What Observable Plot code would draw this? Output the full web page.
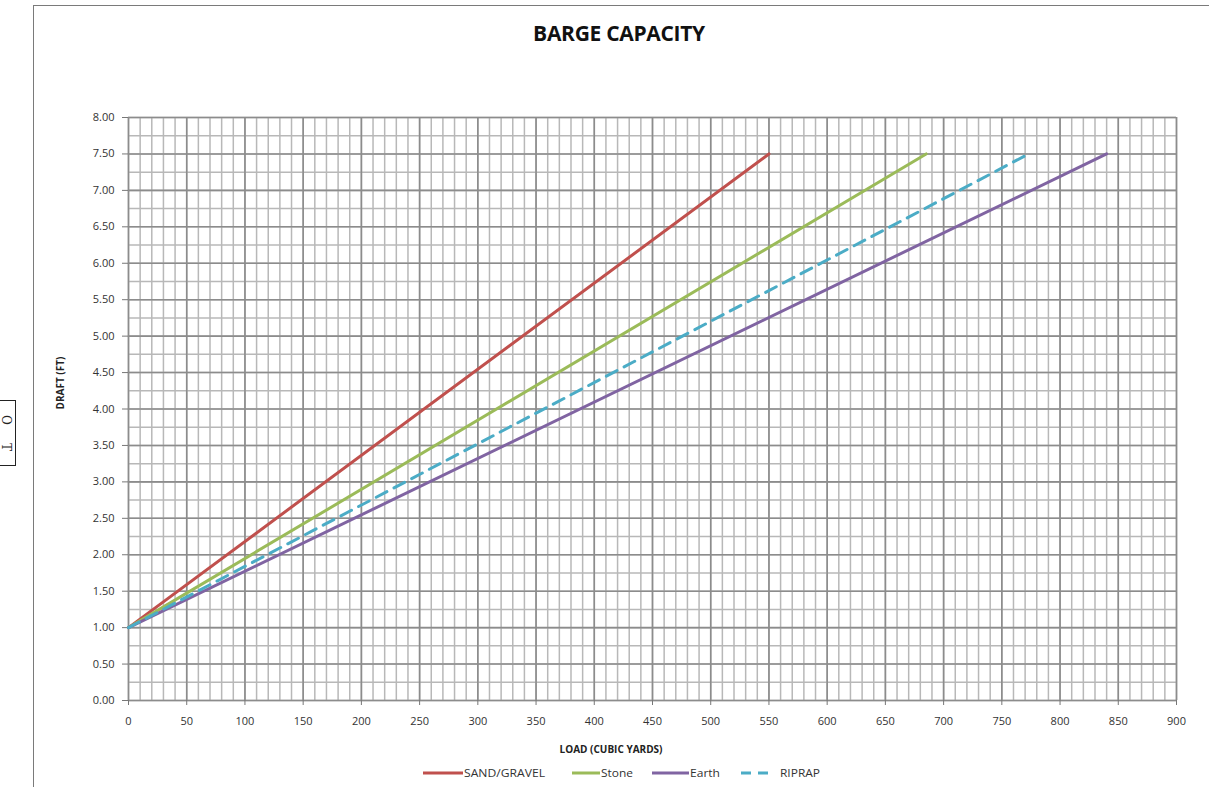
<!DOCTYPE html>
<html>
<head>
<meta charset="utf-8">
<script src="https://cdn.jsdelivr.net/npm/d3@7"></script>
<script src="https://cdn.jsdelivr.net/npm/@observablehq/plot@0.6"></script>
<style>
  html, body { margin: 0; padding: 0; background: #fff; }
  body { width: 1209px; height: 787px; position: relative; overflow: hidden; font-family: "Open Sans", "DejaVu Sans", sans-serif; }
  #frame { position: absolute; left: 33px; top: 5px; width: 1200px; height: 800px; border-left: 1px solid #7a7a7a; border-top: 1px solid #7a7a7a; }
  #title { position: absolute; left: 0; width: 1238px; top: 19px; text-align: center; font-weight: 700; font-size: 21px; letter-spacing: -0.3px; color: #111; }
  #chart { position: absolute; left: 0; top: 90px; }
  #ylabel { position: absolute; left: 60px; top: 383px; transform: translate(-50%, -50%) rotate(-90deg); font-weight: 700; font-size: 10px; color: #222; white-space: nowrap; }
  #xlabel { position: absolute; left: 0; width: 1222px; top: 742px; text-align: center; font-weight: 700; font-size: 10px; color: #222; }
  #legend { position: absolute; left: 423px; top: 765px; height: 16px; white-space: nowrap; }
  #legend svg { display: block; }
  #stub { position: absolute; left: -2px; top: 400px; width: 16px; height: 64px; border: 1px solid #222; }
  #stub svg { display: block; }
</style>
</head>
<body>
<div id="stub"><svg width="16" height="64"><text transform="translate(3,14) rotate(90)" font-size="12" fill="#222" font-family="'DejaVu Serif', serif">O</text><text transform="translate(3,42) rotate(90)" font-size="12" fill="#222" font-family="'DejaVu Serif', serif">T</text></svg></div>
<div id="frame"></div>
<div id="title">BARGE CAPACITY</div>
<div id="chart"></div>
<div id="ylabel">DRAFT (FT)</div>
<div id="xlabel">LOAD (CUBIC YARDS)</div>
<div id="legend"></div>
<script>
// ---- data ----
const seriesNames = ["SAND/GRAVEL", "Stone", "Earth", "RIPRAP"];
const seriesColors = ["#C0504D", "#9BBB59", "#8064A2", "#4BACC6"];
const sandLoad = [0, 550];   const sandDraft = [1.0, 7.5];
const stoneLoad = [0, 685];  const stoneDraft = [1.0, 7.5];
const earthLoad = [0, 840];  const earthDraft = [1.0, 7.5];
const riprapLoad = [0, 773]; const riprapDraft = [1.0, 7.5];
const xTicks = [0, 50, 100, 150, 200, 250, 300, 350, 400, 450, 500, 550, 600, 650, 700, 750, 800, 850, 900];
const yTicks = [0, 0.5, 1, 1.5, 2, 2.5, 3, 3.5, 4, 4.5, 5, 5.5, 6, 6.5, 7, 7.5, 8];
const xMinor = d3.range(0, 901, 10);
const yMinor = d3.range(0, 8.01, 0.25);

const loads = [sandLoad, stoneLoad, earthLoad, riprapLoad];
const drafts = [sandDraft, stoneDraft, earthDraft, riprapDraft];
const rows = seriesNames.flatMap((s, i) => loads[i].map((l, j) => ({series: s, load: l, draft: drafts[i][j]})));
const solidRows = rows.filter(d => d.series !== "RIPRAP");
const dashRows = rows.filter(d => d.series === "RIPRAP");

const chart = Plot.plot({
  width: 1209,
  height: 660,
  marginLeft: 128,
  marginRight: 33,
  marginTop: 27,
  marginBottom: 50,
  style: {fontFamily: "'Open Sans', sans-serif", fontSize: "11px", color: "#333", background: "transparent", overflow: "visible"},
  x: {domain: [0, 900], label: null},
  y: {domain: [0, 8], label: null},
  color: {domain: seriesNames, range: seriesColors},
  marks: [
    Plot.ruleX(xMinor, {stroke: "#b8b8b8", strokeWidth: 1.5}),
    Plot.ruleY(yMinor, {stroke: "#b8b8b8", strokeWidth: 1.5}),
    Plot.ruleX(xTicks, {stroke: "#8c8c8c", strokeWidth: 1.6}),
    Plot.ruleY(yTicks, {stroke: "#8c8c8c", strokeWidth: 1.6}),
    Plot.axisX({ticks: xTicks, tickSize: 5, tickPadding: 12, tickFormat: d => String(d), stroke: "#777", label: null}),
    Plot.axisY({ticks: yTicks, tickSize: 6, tickPadding: 8, tickFormat: d => d.toFixed(2), stroke: "#777", label: null}),
    Plot.line(solidRows, {x: "load", y: "draft", z: "series", stroke: "series", strokeWidth: 3}),
    Plot.line(dashRows, {x: "load", y: "draft", z: "series", stroke: "series", strokeWidth: 3, strokeDasharray: "12,8"})
  ]
});
document.getElementById("chart").appendChild(chart);

// ---- legend (swatch start, swatch width, text start, text width) ----
const legendLayout = [
  {x: 0,   w: 40, tx: 41,  tw: 81, dash: null},
  {x: 149, w: 28, tx: 178, tw: 32, dash: null},
  {x: 229, w: 37, tx: 267, tw: 30, dash: null},
  {x: 318, w: 34, tx: 357, tw: 40, dash: "10,7"}
];
const legendSvg = d3.create("svg").attr("width", 420).attr("height", 16);
document.getElementById("legend").appendChild(legendSvg.node());
seriesNames.forEach((name, i) => {
  const L = legendLayout[i];
  legendSvg.append("line").attr("x1", L.x).attr("x2", L.x + L.w).attr("y1", 8).attr("y2", 8)
    .attr("stroke", seriesColors[i]).attr("stroke-width", 3).attr("stroke-dasharray", L.dash);
  legendSvg.append("text").attr("x", L.tx).attr("y", 11.5)
    .attr("font-size", 10.5).attr("fill", "#333").attr("font-family", "'Open Sans', sans-serif")
    .attr("textLength", L.tw).attr("lengthAdjust", "spacingAndGlyphs").text(name);
});
</script>
</body>
</html>
